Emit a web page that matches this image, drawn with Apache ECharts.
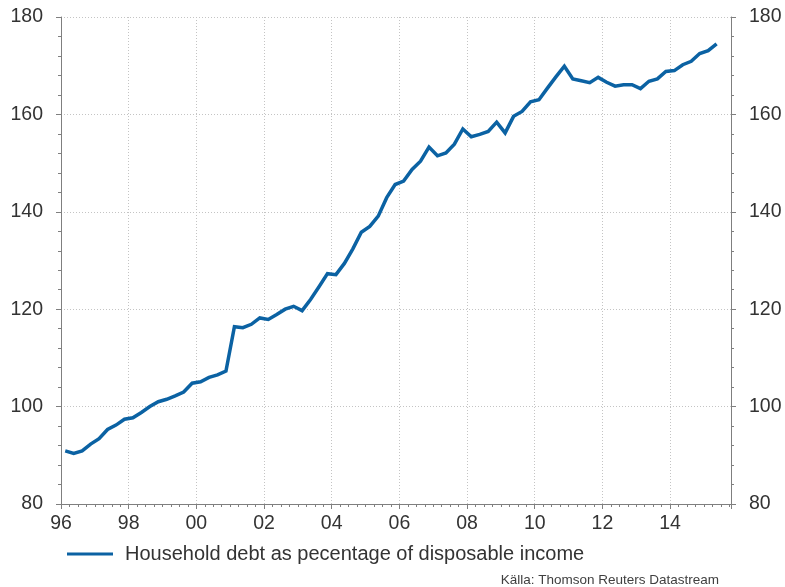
<!DOCTYPE html>
<html>
<head>
<meta charset="utf-8">
<script src="https://cdn.jsdelivr.net/npm/echarts@6/dist/echarts.min.js"></script>
<style>
  html, body { margin: 0; padding: 0; background: #fff; }
  #chart { width: 785px; height: 587px; }
</style>
</head>
<body>
<div id="chart"></div>
<script>
// Quarterly observations, 1996 Q1 to 2015 Q2
const firstQuarter = { year: 1996, q: 1 };
const lastQuarter = { year: 2015, q: 2 };

// Household debt as % of disposable income, one value per quarter
const debtRatio = [
  90.9, 90.4, 90.9, 92.3, 93.4, 95.3, 96.2, 97.4,
  97.7, 98.8, 100.0, 101.0, 101.5, 102.2, 103.0, 104.8,
  105.1, 106.0, 106.5, 107.3, 116.4, 116.2, 116.9, 118.2,
  117.9, 118.9, 120.0, 120.6, 119.7, 122.0, 124.6, 127.3,
  127.1, 129.4, 132.4, 135.8, 137.0, 139.1, 142.9, 145.6,
  146.3, 148.7, 150.4, 153.3, 151.5, 152.1, 153.9, 157.0,
  155.4, 155.9, 156.5, 158.4, 156.2, 159.6, 160.6, 162.6,
  163.0, 165.4, 167.7, 169.9, 167.3, 166.9, 166.5, 167.6,
  166.6, 165.8, 166.1, 166.1, 165.3, 166.8, 167.3, 168.8,
  169.0, 170.2, 170.9, 172.5, 173.1, 174.5
];

const seriesName = 'Household debt as pecentage of disposable income';
const sourceText = 'Källa: Thomson Reuters Datastream';

// Year axis range and left/right value axis range
const yearMin = 1996;
const yearMax = 2015.8;
const valueMin = 80;
const valueMax = 180;

// Build the list of quarters and place each at the middle of its quarter
const quarters = [];
for (let y = firstQuarter.year, q = firstQuarter.q; ; ) {
  quarters.push({ year: y, q: q });
  if (y === lastQuarter.year && q === lastQuarter.q) break;
  q++;
  if (q > 4) { q = 1; y++; }
}
const points = quarters.map((qq, i) => [qq.year + (qq.q - 1) / 4 + 0.125, debtRatio[i]]);

const FONT = '"Liberation Sans", Arial, sans-serif';
const AXIS_COLOR = '#7f7f7f';
const LABEL_COLOR = '#333333';
const GRID_COLOR = '#c4c4c4';
const LINE_COLOR = '#0b62a3';
const TICK_FONT = 19.5;

function yAxisDef(position, showSplit) {
  return {
    type: 'value',
    position: position,
    min: valueMin,
    max: valueMax,
    interval: 20,
    axisLine: { show: true, lineStyle: { color: AXIS_COLOR, width: 1 } },
    axisTick: { show: true, length: 5, lineStyle: { color: AXIS_COLOR } },
    minorTick: { show: true, splitNumber: 5, length: 3, lineStyle: { color: AXIS_COLOR } },
    axisLabel: { color: LABEL_COLOR, fontSize: TICK_FONT, fontFamily: FONT, margin: 18 },
    splitLine: { show: showSplit, lineStyle: { color: GRID_COLOR, type: [1, 2], width: 1 } },
    minorSplitLine: { show: false }
  };
}

const chart = echarts.init(document.getElementById('chart'), null, { renderer: 'canvas' });
chart.setOption({
  animation: false,
  backgroundColor: '#ffffff',
  grid: { left: 61, right: 54, top: 17, bottom: 83, containLabel: false },
  xAxis: {
    type: 'value',
    position: 'bottom',
    min: yearMin,
    max: yearMax,
    interval: 2,
    axisLine: { show: true, onZero: false, lineStyle: { color: AXIS_COLOR, width: 1 } },
    axisTick: { show: true, length: 5, lineStyle: { color: AXIS_COLOR } },
    minorTick: { show: true, splitNumber: 8, length: 3, lineStyle: { color: AXIS_COLOR } },
    axisLabel: {
      color: LABEL_COLOR, fontSize: TICK_FONT, fontFamily: FONT, margin: 10,
      showMaxLabel: false,
      formatter: function (v) {
        if (Math.abs(v - Math.round(v)) > 1e-6 || Math.round(v) % 2 !== 0) return '';
        return String(Math.round(v) % 100).padStart(2, '0');
      }
    },
    splitLine: { show: true, lineStyle: { color: GRID_COLOR, type: [1, 2], width: 1 } }
  },
  yAxis: [yAxisDef('left', true), yAxisDef('right', false)],
  legend: {
    show: true,
    left: 67,
    top: 544,
    padding: 0,
    icon: 'rect',
    itemWidth: 46,
    itemHeight: 3,
    textStyle: { color: LABEL_COLOR, fontSize: 20, fontFamily: FONT, padding: [0, 0, 0, 7] },
    data: [seriesName]
  },
  graphic: [{
    type: 'text',
    right: 66,
    top: 573,
    style: { text: sourceText, fill: '#404040', font: '13.5px ' + FONT }
  }],
  series: [{
    name: seriesName,
    type: 'line',
    data: points,
    showSymbol: false,
    symbol: 'none',
    lineStyle: { color: LINE_COLOR, width: 3.5, join: 'miter' },
    itemStyle: { color: LINE_COLOR }
  }]
});
</script>
</body>
</html>
